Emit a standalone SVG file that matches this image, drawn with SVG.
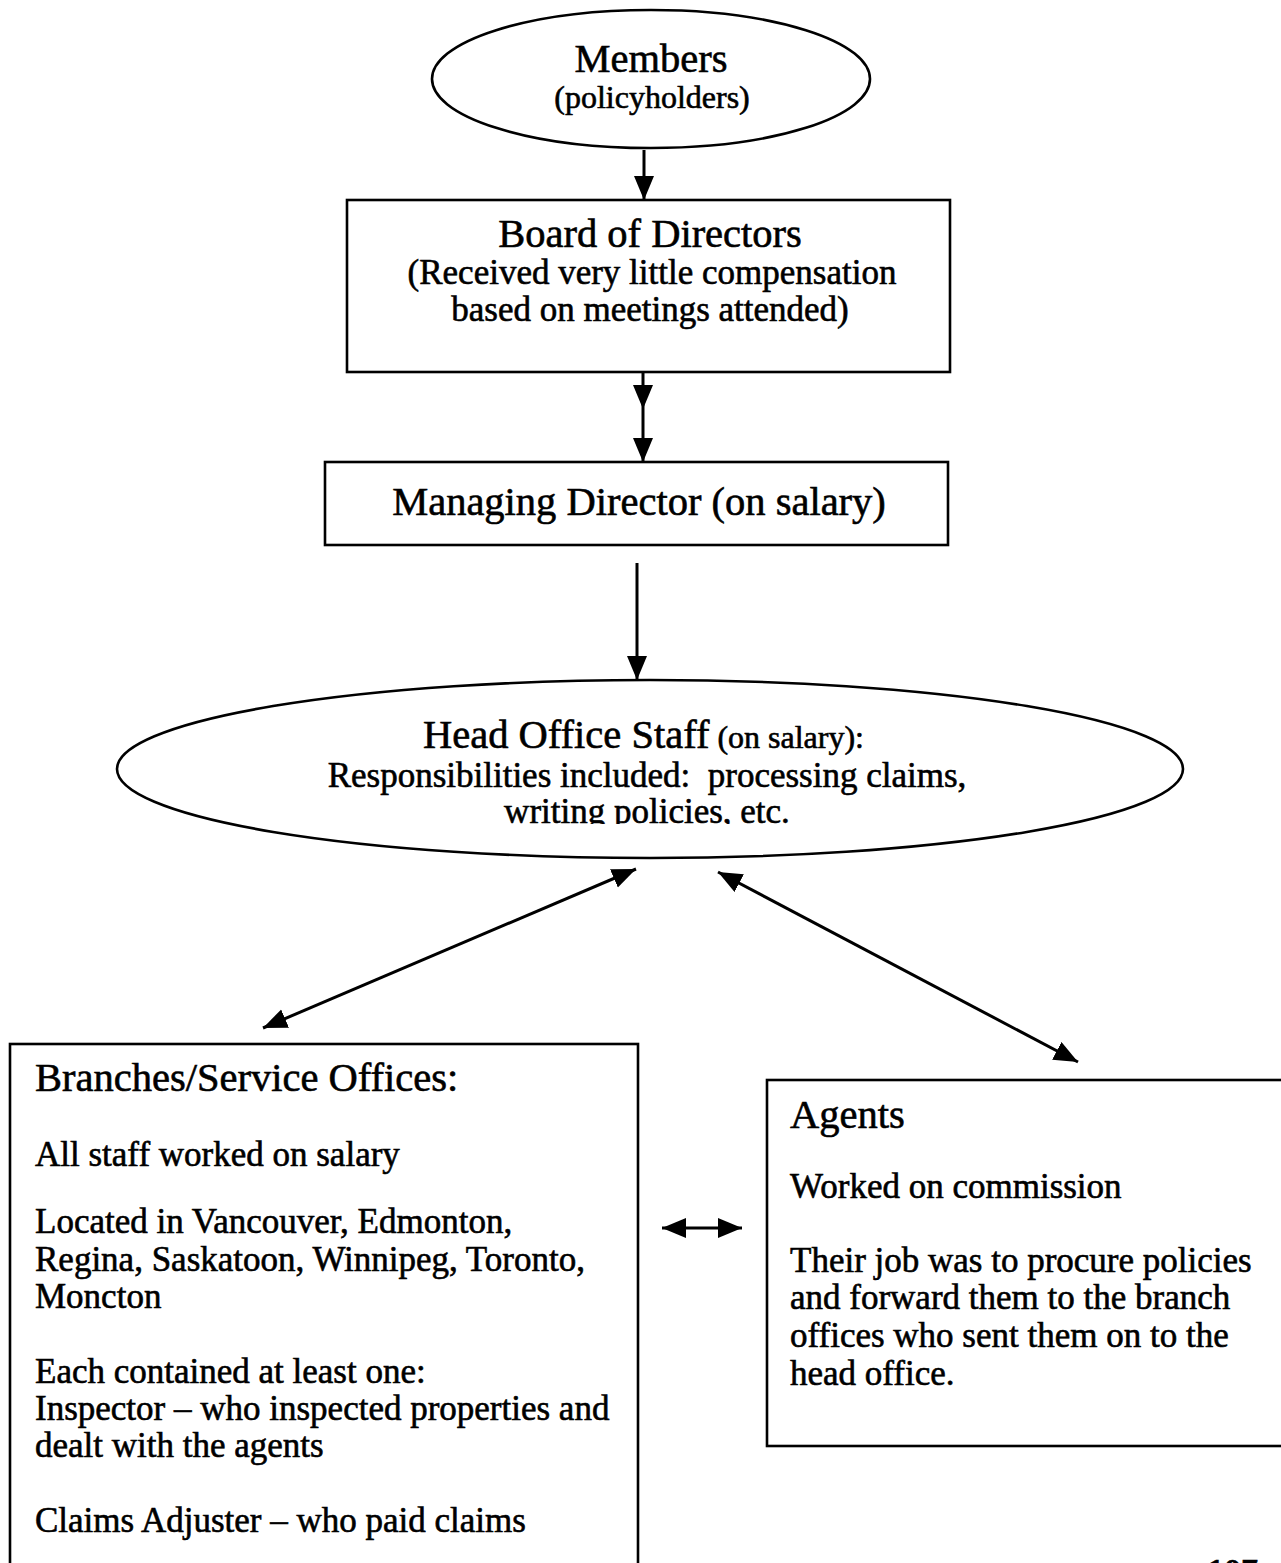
<svg xmlns="http://www.w3.org/2000/svg" width="1281" height="1563" viewBox="0 0 1281 1563">
<style>
.t{font-family:"Liberation Serif","Times New Roman",serif;fill:#000;stroke:#000;stroke-width:0.6}
.h{font-size:40.5px}
.b{font-size:35px}
.s{font-size:32px}
.shape{fill:none;stroke:#000;stroke-width:2.6}
.conn{fill:none;stroke:#000;stroke-width:3}
</style>
<defs>
<marker id="ah" markerUnits="userSpaceOnUse" markerWidth="26" markerHeight="22" refX="24" refY="10" orient="auto-start-reverse">
<path d="M0,0 L24,10 L0,20 Z" fill="#000"/>
</marker>
<clipPath id="hoclip"><rect x="0" y="0" width="1281" height="824"/></clipPath>
</defs>
<rect width="1281" height="1563" fill="#fff"/>

<g id="members">
<ellipse class="shape" cx="651" cy="79" rx="219" ry="69"/>
<text class="t h" x="651" y="72" text-anchor="middle">Members</text>
<text class="t s" x="652" y="108" text-anchor="middle">(policyholders)</text>
</g>

<g id="board">
<rect class="shape" x="347" y="200" width="603" height="172"/>
<text class="t h" x="650" y="247" text-anchor="middle">Board of Directors</text>
<text class="t b" x="652" y="284" text-anchor="middle">(Received very little compensation</text>
<text class="t b" x="650" y="321" text-anchor="middle">based on meetings attended)</text>
</g>

<g id="managing">
<rect class="shape" x="325" y="462" width="623" height="83"/>
<text class="t h" x="639" y="515" text-anchor="middle">Managing Director (on salary)</text>
</g>

<g id="headoffice">
<ellipse class="shape" cx="650" cy="769" rx="533" ry="89"/>
<text class="t" x="423" y="748"><tspan class="h">Head Office Staff</tspan><tspan class="s"> (on salary):</tspan></text>
<text class="t b" x="647" y="787" text-anchor="middle">Responsibilities included:&#160; processing claims,</text>
<text class="t b" x="647" y="823" text-anchor="middle" clip-path="url(#hoclip)">writing policies, etc.</text>
</g>

<g id="branches">
<rect class="shape" x="10" y="1044" width="628" height="560"/>
<text class="t h" x="35" y="1091">Branches/Service Offices:</text>
<text class="t b" x="35" y="1166">All staff worked on salary</text>
<text class="t b" x="35" y="1233">Located in Vancouver, Edmonton,</text>
<text class="t b" x="35" y="1271">Regina, Saskatoon, Winnipeg, Toronto,</text>
<text class="t b" x="35" y="1308">Moncton</text>
<text class="t b" x="35" y="1383">Each contained at least one:</text>
<text class="t b" x="35" y="1420">Inspector – who inspected properties and</text>
<text class="t b" x="35" y="1457">dealt with the agents</text>
<text class="t b" x="35" y="1532">Claims Adjuster – who paid claims</text>
</g>

<g id="agents">
<rect class="shape" x="767" y="1080" width="560" height="366"/>
<text class="t h" x="790" y="1128">Agents</text>
<text class="t b" x="790" y="1198">Worked on commission</text>
<text class="t b" x="790" y="1272">Their job was to procure policies</text>
<text class="t b" x="790" y="1309">and forward them to the branch</text>
<text class="t b" x="790" y="1347">offices who sent them on to the</text>
<text class="t b" x="790" y="1385">head office.</text>
</g>

<g id="pagenum">
<text class="t" x="1207" y="1582" font-size="34" font-weight="bold">107</text>
</g>

<g id="connectors">
<path class="conn" d="M644,150 L644,200" marker-end="url(#ah)"/>
<path class="conn" d="M643,372 L643,409" marker-end="url(#ah)"/>
<path class="conn" d="M643,409 L643,462" marker-end="url(#ah)"/>
<path class="conn" d="M637,563 L637,680" marker-end="url(#ah)"/>
<path class="conn" d="M263,1028 L636,869" marker-start="url(#ah)" marker-end="url(#ah)"/>
<path class="conn" d="M718,872 L1078,1062" marker-start="url(#ah)" marker-end="url(#ah)"/>
<path class="conn" d="M662,1228 L742,1228" marker-start="url(#ah)" marker-end="url(#ah)"/>
</g>
</svg>
